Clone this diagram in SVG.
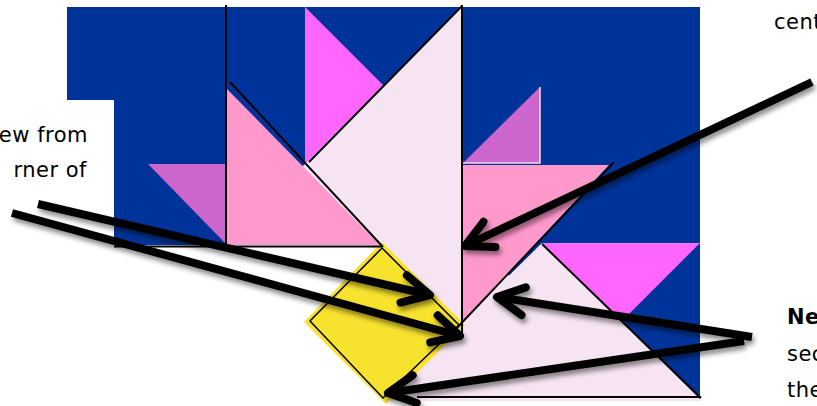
<svg xmlns="http://www.w3.org/2000/svg" width="817" height="406" viewBox="0 0 817 406">
<defs>
<style>
.blue{fill:#003399}
.pink{fill:#FF99CC}
.pale{fill:#F6E4F2}
.mag{fill:#FF66FF}
.pur{fill:#CC66CC}
.edge{stroke:#000;stroke-width:2;fill:none}
.arrow{stroke:#000;stroke-width:8;fill:none;stroke-linecap:butt}
.lbl{font-family:"DejaVu Sans","Liberation Sans",sans-serif;font-size:21px;fill:#000;letter-spacing:0.5px}
</style>
<marker id="head" markerUnits="userSpaceOnUse" markerWidth="60" markerHeight="60" viewBox="-40 -30 60 60" refX="0" refY="0" orient="auto" overflow="visible">
<path d="M-27,-14 L0,0 L-27,14" fill="none" stroke="#000" stroke-width="8" stroke-linecap="round" stroke-linejoin="round"/>
</marker>
<filter id="shadow" x="-10%" y="-20%" width="130%" height="160%">
<feDropShadow dx="2" dy="4" stdDeviation="2.5" flood-color="#000" flood-opacity="0.45"/>
</filter>
</defs>
<rect width="817" height="406" fill="#fff"/>

<g id="background">
<polygon class="blue" points="67,7 700,7 700,400 462,245 114,245 114,100 67,100"/>
</g>

<g id="tri-magenta-top"><polygon class="mag" points="305,7 305,163 461,163"/></g>
<g id="tri-purple-left"><polygon class="pur" points="148,164 226,164 226,244"/></g>
<g id="tri-purple-right">
<polygon class="pur" points="540,87 540,163 463,163"/>
<polyline points="540,87 540,163 463,163" fill="none" stroke="#F3DDF0" stroke-width="1.5"/>
</g>
<g id="tri-magenta-bottom">
<polygon class="mag" points="542,243 700,243 621,322"/>
<line x1="542" y1="243.5" x2="700" y2="243.5" stroke="#E57FE5" stroke-width="1"/>
</g>

<g id="tri-pale-vertical">
<polygon class="pale" points="462,6 462,338 297,172"/>
</g>
<g id="tri-pink-left">
<polygon class="pink" points="226,88 226,245 380,245"/>
</g>
<g id="tri-pink-right">
<polygon class="pink" points="462,165 609,165 462,322"/>
</g>
<g id="tri-pale-bottom">
<polygon class="pale" points="542,243 382,401 702,401"/>
</g>
<g id="square-yellow">
<polygon fill="#F7E22E" points="382,242 465,325 386,404 304,322"/>
<polygon fill="#F7E22E" stroke="#000" stroke-width="1.5" points="382,248 459,325 383,398 310,321"/>
</g>

<g id="outlines">
<line class="edge" x1="226" y1="5" x2="226" y2="246"/>
<line class="edge" x1="462" y1="5" x2="462" y2="338"/>
<line class="edge" x1="114" y1="246.5" x2="382" y2="246.5"/>
<line class="edge" x1="230" y1="82" x2="383" y2="247"/>
<line class="edge" x1="462" y1="6" x2="309" y2="162"/>
<line class="edge" x1="614" y1="162" x2="454" y2="331"/>
<line class="edge" x1="542" y1="244" x2="701" y2="398"/>
<line class="edge" x1="417" y1="397" x2="701" y2="397"/>
</g>

<g id="connectors" filter="url(#shadow)">
<line class="arrow" x1="38" y1="204" x2="430" y2="295" marker-end="url(#head)"/>
<line class="arrow" x1="12" y1="213" x2="460" y2="336" marker-end="url(#head)"/>
<line class="arrow" x1="812" y1="82" x2="465" y2="246" marker-end="url(#head)"/>
<line class="arrow" x1="752" y1="337" x2="497" y2="297" marker-end="url(#head)"/>
<line class="arrow" x1="744" y1="341" x2="388" y2="393" marker-end="url(#head)"/>
</g>

<g id="labels">
<text class="lbl" x="88" y="142" text-anchor="end">ew from</text>
<text class="lbl" x="87" y="177" text-anchor="end">rner of</text>
<text class="lbl" x="774" y="29">cent</text>
<text class="lbl" x="787" y="324" font-weight="bold">Ne</text>
<text class="lbl" x="787" y="361">sec</text>
<text class="lbl" x="787" y="397">the</text>
</g>
</svg>
